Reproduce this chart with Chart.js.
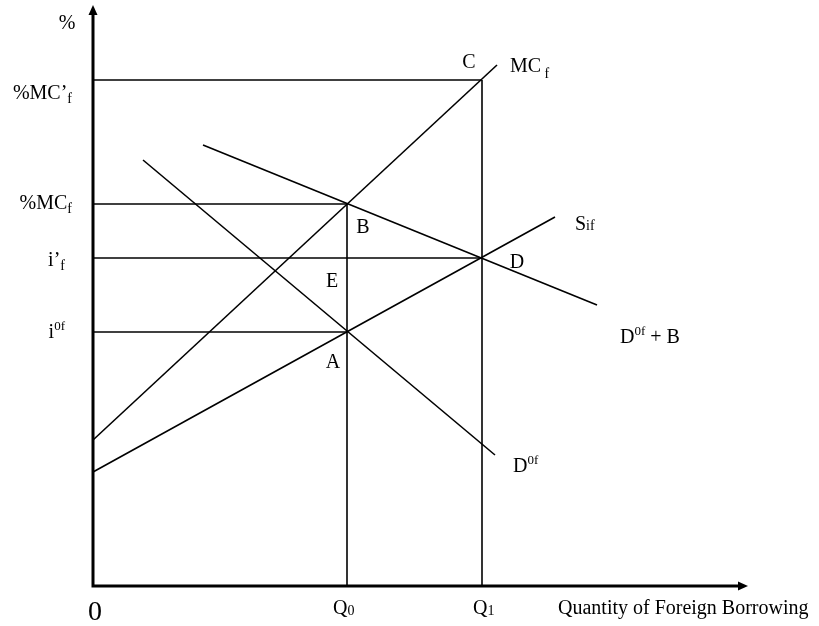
<!DOCTYPE html>
<html><head><meta charset="utf-8">
<script src="https://cdn.jsdelivr.net/npm/chart.js@4/dist/chart.umd.min.js"></script>
<style>html,body{margin:0;padding:0;background:#fff;}canvas{display:block;}</style>
</head><body>
<canvas id="c" width="819" height="626"></canvas>
<script>
// ---------- data ----------
const xMax = 65.5, yMax = 58.1;                 // axis extents
const qValues = [25.4, 38.9];                   // Q0, Q1
const qLabels = [['Q','0'], ['Q','1']];
const rateValues = [50.6, 38.2, 32.8, 25.4];    // %MC'f, %MCf, i'f, i0f
const rateLabels = [['%MC\u2019','f','sub'], ['%MC','f','sub'], ['i\u2019','f','sub'], ['i','0f','sup']];
const mcCurve     = [{x:0, y:14.6}, {x:40.4, y:52.1}];   // MC f
const supplyCurve = [{x:0, y:11.4}, {x:46.2, y:36.9}];   // Sif
const demandPlusB = [{x:11.0, y:44.1}, {x:50.4, y:28.1}]; // D0f + B
const demandCurve = [{x:5.0, y:42.6}, {x:40.2, y:13.1}];  // D0f
const xTitle = 'Quantity of Foreign Borrowing';

// ---------- build datasets ----------
const FONT = '"Liberation Serif", "Times New Roman", serif';
const guides = [
  [{x:0, y:rateValues[0]}, {x:qValues[1], y:rateValues[0]}],
  [{x:0, y:rateValues[1]}, {x:qValues[0], y:rateValues[1]}],
  [{x:0, y:rateValues[2]}, {x:qValues[1], y:rateValues[2]}],
  [{x:0, y:rateValues[3]}, {x:qValues[0], y:rateValues[3]}],
  [{x:qValues[0], y:0}, {x:qValues[0], y:rateValues[1]}],
  [{x:qValues[1], y:0}, {x:qValues[1], y:rateValues[0]}]
];
function line(data, w) {
  return {data, showLine:true, borderColor:'#000', borderWidth:w, pointRadius:0,
          clip:false, borderCapStyle:'butt', borderJoinStyle:'miter', tension:0};
}
const datasets = [];
guides.forEach(g => datasets.push(line(g, 1.6)));
[mcCurve, supplyCurve, demandPlusB, demandCurve].forEach(c => datasets.push(line(c, 1.6)));
datasets.push(line([{x:0, y:yMax-0.8}, {x:0, y:0}, {x:xMax-0.8, y:0}], 3));

function rich(ctx, parts, x, y, align) {
  let w = 0;
  parts.forEach(p => { ctx.font = p[1] + 'px ' + FONT; w += ctx.measureText(p[0]).width; });
  let cx = align === 'right' ? x - w : align === 'center' ? x - w / 2 : x;
  ctx.textAlign = 'left'; ctx.textBaseline = 'alphabetic'; ctx.fillStyle = '#000';
  parts.forEach(p => {
    ctx.font = p[1] + 'px ' + FONT;
    ctx.fillText(p[0], cx, y + (p[2] || 0));
    cx += ctx.measureText(p[0]).width;
  });
}

const annot = {
  id: 'annot',
  afterDatasetsDraw(chart) {
    const ctx = chart.ctx, xs = chart.scales.x, ys = chart.scales.y;
    const px = v => xs.getPixelForValue(v), py = v => ys.getPixelForValue(v);
    const x0 = px(0), y0 = py(0);
    ctx.save();
    // arrowheads
    ctx.fillStyle = '#000';
    ctx.beginPath();
    ctx.moveTo(x0, py(yMax)); ctx.lineTo(x0 - 4.5, py(yMax) + 10); ctx.lineTo(x0 + 4.5, py(yMax) + 10); ctx.closePath(); ctx.fill();
    ctx.beginPath();
    ctx.moveTo(px(xMax), y0); ctx.lineTo(px(xMax) - 10, y0 - 4.5); ctx.lineTo(px(xMax) - 10, y0 + 4.5); ctx.closePath(); ctx.fill();

    // y axis labels
    rich(ctx, [['%', 20]], x0 - 26, py(yMax) + 24, 'center');
    const yOff = [19, 5, 8, 6], yRight = [21, 21, 28, 28];
    rateLabels.forEach((l, i) => {
      const parts = l[2] === 'sub' ? [[l[0], 20], [l[1], 14, 4]] : [[l[0], 20], [l[1], 13, -8]];
      rich(ctx, parts, x0 - yRight[i], py(rateValues[i]) + yOff[i], 'right');
    });

    // x axis labels
    rich(ctx, [['0', 28]], x0 + 2, y0 + 34, 'center');
    const qLeft = [-14, -9];
    qLabels.forEach((l, i) => rich(ctx, [[l[0], 20], [l[1], 14, 1]], px(qValues[i]) + qLeft[i], y0 + 28, 'left'));
    rich(ctx, [[xTitle, 20]], x0 + 465, y0 + 28, 'left');

    // point labels
    rich(ctx, [['C', 20]], px(qValues[1]) - 13, py(rateValues[0]) - 12, 'center');
    rich(ctx, [['MC', 20], [' f', 14, 6]], px(mcCurve[1].x) + 13, py(mcCurve[1].y) + 7, 'left');
    rich(ctx, [['B', 20]], px(qValues[0]) + 16, py(rateValues[1]) + 29, 'center');
    rich(ctx, [['E', 20]], px(qValues[0]) - 15, py(rateValues[2]) + 29, 'center');
    rich(ctx, [['A', 20]], px(qValues[0]) - 14, py(rateValues[3]) + 36, 'center');
    rich(ctx, [['D', 20]], px(qValues[1]) + 35, py(rateValues[2]) + 10, 'center');
    rich(ctx, [['S', 20], ['if', 14]], px(supplyCurve[1].x) + 20, py(supplyCurve[1].y) + 13, 'left');
    rich(ctx, [['D', 20], ['0f', 13, -8], [' + B', 20]], px(demandPlusB[1].x) + 23, py(demandPlusB[1].y) + 38, 'left');
    rich(ctx, [['D', 20], ['0f', 13, -8]], px(demandCurve[1].x) + 18, py(demandCurve[1].y) + 17, 'left');
    ctx.restore();
  }
};

new Chart(document.getElementById('c'), {
  type: 'scatter',
  data: { datasets },
  options: {
    responsive: false, animation: false, events: [],
    layout: { padding: { left: 93, right: 819 - 748, top: 5, bottom: 626 - 586 } },
    plugins: { legend: { display: false }, tooltip: { enabled: false } },
    scales: {
      x: { type: 'linear', display: false, min: 0, max: xMax },
      y: { type: 'linear', display: false, min: 0, max: yMax }
    }
  },
  plugins: [annot]
});
</script>
</body></html>
